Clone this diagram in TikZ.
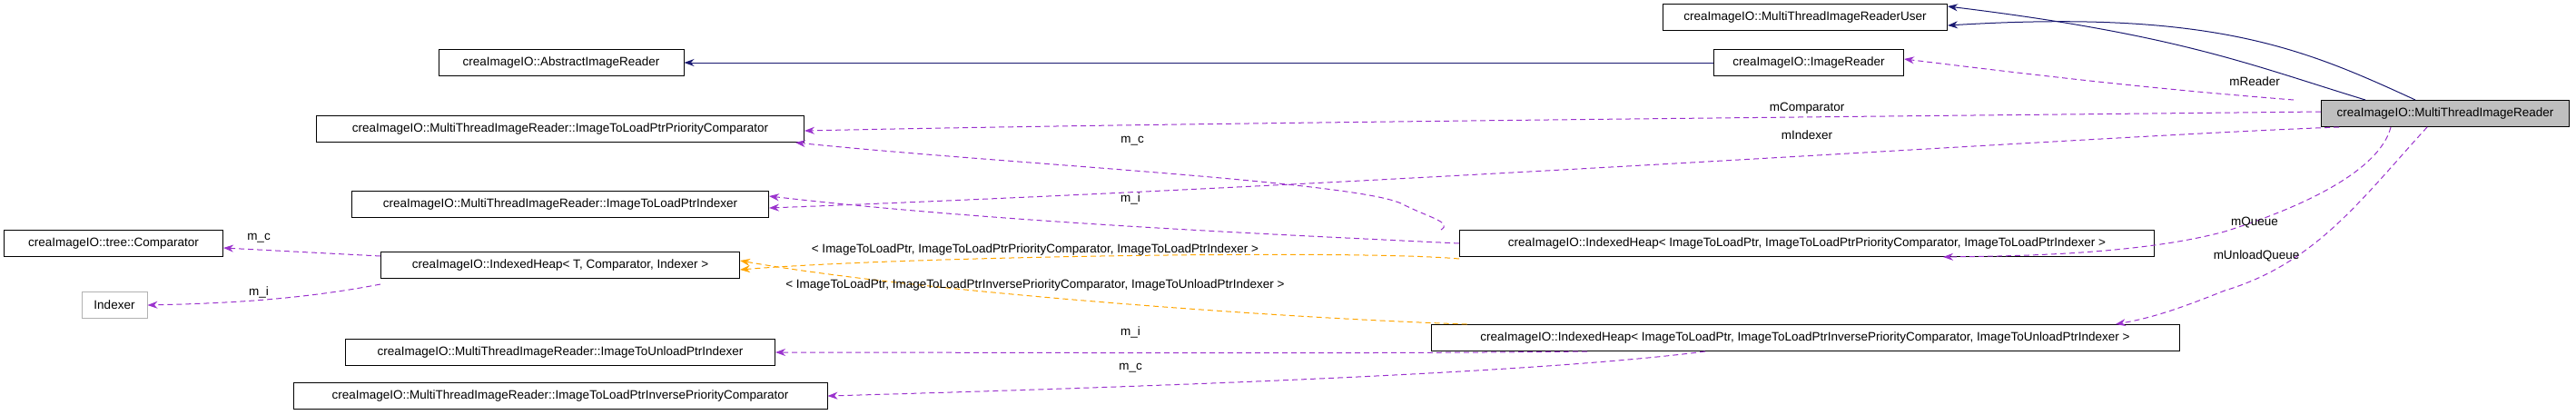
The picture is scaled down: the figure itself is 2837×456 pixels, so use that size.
\documentclass[tikz,border=0pt]{standalone}
\usepackage{fontspec}
\setmainfont{Liberation Sans}
\usetikzlibrary{arrows.meta}
\definecolor{navy}{HTML}{191970}
\definecolor{purp}{HTML}{9A32CD}
\definecolor{orng}{HTML}{FFA500}
\begin{document}
\begin{tikzpicture}[x=1pt,y=-1pt,
  box/.style={draw=black,line width=1pt,fill=white,inner sep=0pt,minimum height=29pt,font=\fontsize{13.5}{15}\selectfont,anchor=center},
  inh/.style={draw=navy,line width=1pt,-{Stealth[length=11pt,width=8pt]}},
  use/.style={draw=purp,line width=1pt,dash pattern=on 6pt off 4pt,-{Stealth[length=11pt,width=8pt]}},
  tmp/.style={draw=orng,line width=1pt,dash pattern=on 6pt off 4pt,-{Stealth[length=11pt,width=8pt]}},
  lbl/.style={font=\fontsize{13.5}{15}\selectfont,inner sep=1pt}]
\useasboundingbox (0,0) rectangle (2837,456);
\node[box,minimum width=313pt] (user) at (1988,19) {creaImageIO::MultiThreadImageReaderUser};
\node[box,minimum width=270pt] (abs) at (618,69) {creaImageIO::AbstractImageReader};
\node[box,minimum width=209pt] (ir) at (1992,69) {creaImageIO::ImageReader};
\node[box,minimum width=273pt,fill=black!25] (mtir) at (2693,125) {creaImageIO::MultiThreadImageReader};
\node[box,minimum width=537pt] (pc) at (617,142) {creaImageIO::MultiThreadImageReader::ImageToLoadPtrPriorityComparator};
\node[box,minimum width=459pt] (li) at (617,225) {creaImageIO::MultiThreadImageReader::ImageToLoadPtrIndexer};
\node[box,minimum width=765pt] (hl) at (1990,268) {creaImageIO::IndexedHeap< ImageToLoadPtr, ImageToLoadPtrPriorityComparator, ImageToLoadPtrIndexer >};
\node[box,minimum width=241pt] (tc) at (125,268) {creaImageIO::tree::Comparator};
\node[box,minimum width=395pt] (ht) at (617,292) {creaImageIO::IndexedHeap< T, Comparator, Indexer >};
\node[box,minimum width=72pt,draw=black!30] (idx) at (126,336) {Indexer};
\node[box,minimum width=824pt] (hu) at (1988,372) {creaImageIO::IndexedHeap< ImageToLoadPtr, ImageToLoadPtrInversePriorityComparator, ImageToUnloadPtrIndexer >};
\node[box,minimum width=473pt] (ui) at (617,388) {creaImageIO::MultiThreadImageReader::ImageToUnloadPtrIndexer};
\node[box,minimum width=588pt] (ic) at (617,436) {creaImageIO::MultiThreadImageReader::ImageToLoadPtrInversePriorityComparator};

% inheritance
\draw[inh] ([xshift=-33pt]mtir.north) .. controls (2540,55) and (2440,10) .. ([yshift=-9pt]user.east);
\draw[inh] ([xshift=-88pt]mtir.north) .. controls (2480,72) and (2400,38) .. ([yshift=12pt]user.east);
\draw[inh] (ir.west) -- (abs.east);
% usage
\draw[use] ([xshift=-30pt]mtir.north west) .. controls (2400,100) and (2300,90) .. ([yshift=4pt]ir.east);
\node[lbl] (lR) at (2483,90) {mReader};
\draw[use] ([yshift=2pt]mtir.west) .. controls (2100,128) and (1300,135) .. ([yshift=-2pt]pc.east);
\node[lbl] (lC) at (1990,119) {mComparator};
\draw[use] ([xshift=20pt]mtir.south west) .. controls (2300,150) and (1600,200) .. ([yshift=-4pt]li.east);
\node[lbl] (lI) at (1990,149) {mIndexer};
\draw[use] ([xshift=-60pt]mtir.south) .. controls (2620,190) and (2530,230) .. (2450,255) .. controls (2350,282) and (2200,282) .. ([xshift=150pt]hl.south);
\node[lbl] (lQ) at (2483,245) {mQueue};
\draw[use] ([xshift=-20pt]mtir.south) .. controls (2600,220) and (2550,290) .. (2450,320) .. controls (2400,340) and (2370,350) .. ([xshift=340pt]hl.south |- hu.north);
\node[lbl] (lU) at (2485,282) {mUnloadQueue};
\draw[use] ([xshift=-20pt]hl.north west) .. controls (1600,245) and (1575,240) .. (1545,225) .. controls (1500,200) and (1100,180) .. ([xshift=-10pt]pc.south east);
\node[lbl] (l1) at (1247,155) {m\_c};
\draw[use] (hl.west) .. controls (1400,258) and (1100,245) .. ([yshift=9pt]li.east);
\node[lbl] (l2) at (1245,219) {m\_i};
\draw[use] ([yshift=-5pt]ht.north west) -- ([yshift=-5pt]tc.east);
\node[lbl] (l3) at (285,262) {m\_c};
\draw[use] ([yshift=-6pt]ht.south west) .. controls (330,330) and (250,334) .. (idx.east);
\node[lbl] (l4) at (285,322) {m\_i};
\draw[tmp] ([yshift=-2pt]hl.south west) .. controls (1500,275) and (1000,282) .. ([yshift=-5pt]ht.east);
\node[lbl] (l5) at (1140,275) {< ImageToLoadPtr, ImageToLoadPtrPriorityComparator, ImageToLoadPtrIndexer >};
\draw[tmp] ([xshift=40pt]hu.north west) .. controls (1400,350) and (1000,320) .. ([yshift=5pt]ht.east);
\node[lbl] (l6) at (1140,314) {< ImageToLoadPtr, ImageToLoadPtrInversePriorityComparator, ImageToUnloadPtrIndexer >};
\draw[use] ([xshift=-240pt]hu.south) .. controls (1500,390) and (1100,388) .. (ui.east);
\node[lbl] (l7) at (1245,366) {m\_i};
\draw[use] ([xshift=-110pt]hu.south) .. controls (1700,410) and (1300,425) .. (ic.east);
\node[lbl] (l8) at (1245,405) {m\_c};
\end{tikzpicture}
\end{document}
